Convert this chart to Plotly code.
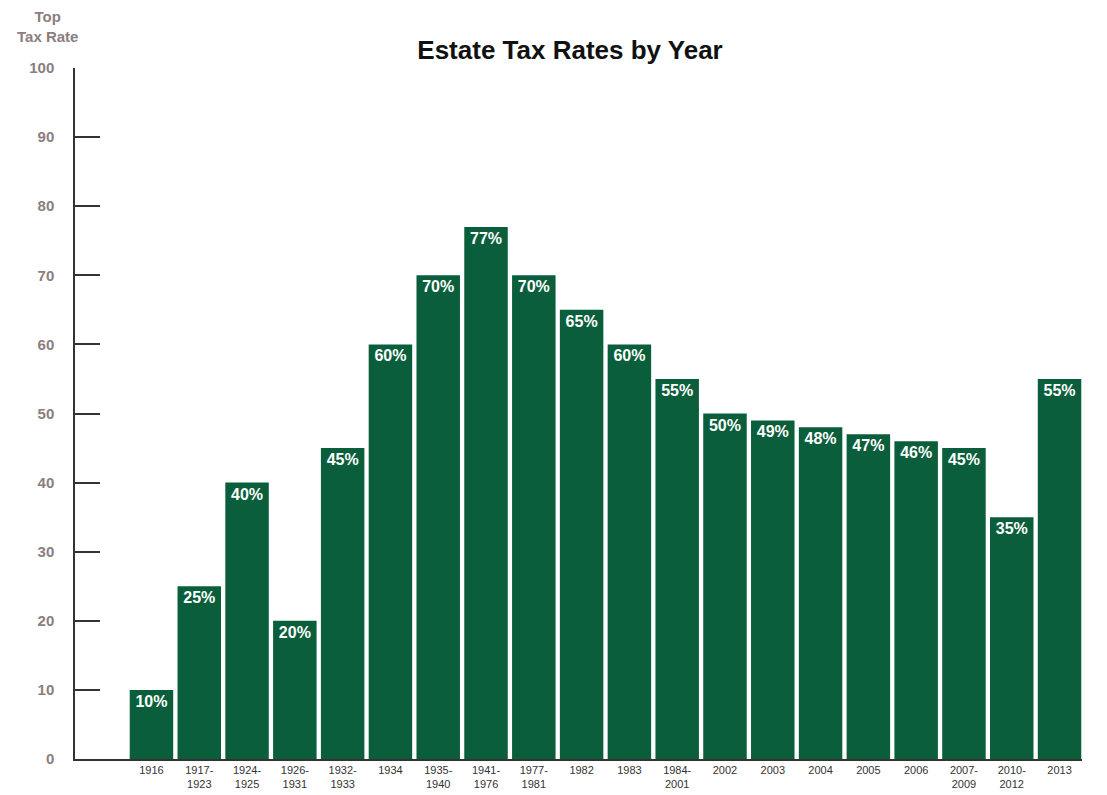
import plotly.graph_objects as go

categories = ["1916", "1917-<br>1923", "1924-<br>1925", "1926-<br>1931", "1932-<br>1933", "1934",
              "1935-<br>1940", "1941-<br>1976", "1977-<br>1981", "1982", "1983", "1984-<br>2001",
              "2002", "2003", "2004", "2005", "2006", "2007-<br>2009", "2010-<br>2012", "2013"]
rates = [10, 25, 40, 20, 45, 60, 70, 77, 70, 65, 60, 55, 50, 49, 48, 47, 46, 45, 35, 55]
labels = [f"{v}%" for v in rates]
y_ticks = [0, 10, 20, 30, 40, 50, 60, 70, 80, 90, 100]

fig = go.Figure(go.Bar(
    x=list(range(len(categories))), y=rates, text=labels,
    textposition="inside", insidetextanchor="end",
    textfont=dict(family="Liberation Sans", size=16, color="white", weight="bold"),
    textangle=0,
    marker=dict(color="#0b5e3c", line=dict(width=0)),
))

fig.update_layout(
    width=1099, height=787,
    margin=dict(l=67, r=25, t=60, b=36, autoexpand=False),
    plot_bgcolor="white", paper_bgcolor="white",
    bargap=0.09,
    showlegend=False,
    title=dict(text="<b>Estate Tax Rates by Year</b>", x=0.5114, xanchor="center", y=0.947, yanchor="middle",
               font=dict(family="Liberation Sans", size=26, color="#111")),
    font=dict(family="Liberation Sans"),
)
fig.update_xaxes(
    tickmode="array", tickvals=list(range(len(categories))), ticktext=categories,
    range=[-1.6, 19.47], showline=True, linecolor="#333333", linewidth=1.5,
    ticks="", showgrid=False, zeroline=False, automargin=False,
    tickfont=dict(family="Liberation Sans", size=11, color="#333"),
    ticklabelstandoff=0,
)
fig.update_yaxes(
    range=[0, 100], tickvals=y_ticks, ticks="inside", ticklen=25, tickwidth=1.5, tickcolor="#333333",
    showline=True, linecolor="#333333", linewidth=1.5, showgrid=False, zeroline=False, automargin=False,
    tickfont=dict(family="Liberation Sans", size=15, color="#8a7e7e", weight="bold"),
    ticklabelstandoff=16,
)
fig.add_annotation(text="Top<br>Tax Rate", xref="paper", yref="paper", x=-0.0278, y=1.0605,
                   xanchor="center", yanchor="middle", showarrow=False, align="center",
                   font=dict(family="Liberation Sans", size=15, color="#8a7e7e", weight="bold"))

fig.write_html("out.html")
